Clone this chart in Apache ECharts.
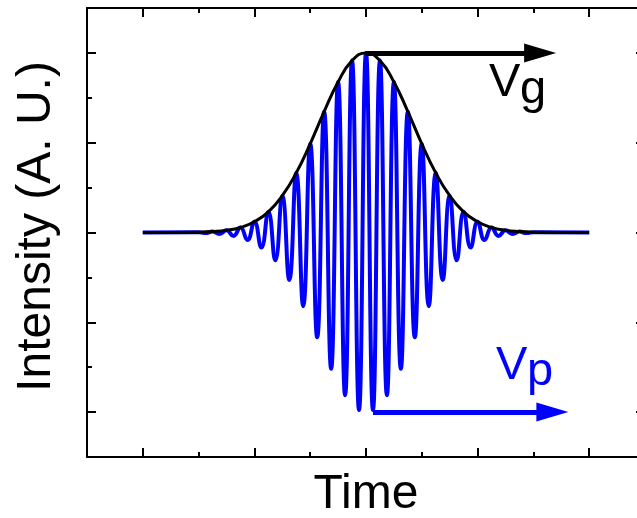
<!DOCTYPE html>
<html>
<head>
<meta charset="utf-8">
<script src="https://cdn.jsdelivr.net/npm/echarts@6/dist/echarts.min.js"></script>
<style>
html,body{margin:0;padding:0;background:#fff;}
#chart{width:637px;height:518px;}
</style>
</head>
<body>
<div id="chart"></div>
<script>
// Blue carrier wave: time positions of peaks/troughs and their amplitudes
const waveT = [-2, -1.5, -1.4375, -1.375, -1.3125, -1.25, -1.1875, -1.125, -1.0625, -1, -0.9375, -0.875, -0.8125, -0.75, -0.6875, -0.625, -0.5625, -0.5, -0.4375, -0.375, -0.3125, -0.25, -0.1875, -0.125, -0.0625, 0, 0.0625, 0.125, 0.1875, 0.25, 0.3125, 0.375, 0.4375, 0.5, 0.5625, 0.625, 0.6875, 0.75, 0.8125, 0.875, 0.9375, 1, 1.0625, 1.125, 1.1875, 1.25, 1.3125, 1.375, 1.4375, 1.5, 2];
const waveA = [0, 0.002, -0.003, 0.005, -0.008, 0.012, -0.019, 0.028, -0.042, 0.060, -0.084, 0.115, -0.155, 0.205, -0.264, 0.332, -0.410, 0.494, -0.583, 0.673, -0.759, 0.838, -0.906, 0.957, -0.989, 1.000, -0.989, 0.957, -0.906, 0.838, -0.759, 0.673, -0.583, 0.494, -0.410, 0.332, -0.264, 0.205, -0.155, 0.115, -0.084, 0.060, -0.042, 0.028, -0.019, 0.012, -0.008, 0.005, -0.003, 0.002, 0];

// Black envelope
const envT = [-2, -1.5, -1.375, -1.25, -1.125, -1, -0.875, -0.75, -0.625, -0.5, -0.375, -0.25, -0.125, 0, 0.125, 0.25, 0.375, 0.5, 0.625, 0.75, 0.875, 1, 1.125, 1.25, 1.375, 1.5, 2];
const envA = [0, 0.002, 0.005, 0.012, 0.028, 0.060, 0.115, 0.205, 0.332, 0.494, 0.673, 0.838, 0.957, 1, 0.957, 0.838, 0.673, 0.494, 0.332, 0.205, 0.115, 0.060, 0.028, 0.012, 0.005, 0.002, 0];

// Arrow annotations (data units)
const vgArrow = [[0, 1], [1.56, 1]];
const vpArrow = [[0.0625, -1], [1.67, -1]];

const xName = 'Time';
const yName = 'Intensity (A. U.)';
const FONT = '"Liberation Sans", Arial, sans-serif';

const chart = echarts.init(document.getElementById('chart'), null, {renderer: 'canvas'});

function axisBase(extra) {
  return Object.assign({
    type: 'value',
    axisLine: {show: true, onZero: false, lineStyle: {color: '#000', width: 2}},
    axisTick: {show: true, inside: true, length: 5, lineStyle: {color: '#000', width: 2}},
    minorTick: {show: true, splitNumber: 2, length: 9, lineStyle: {color: '#000', width: 2}},
    axisLabel: {show: false},
    splitLine: {show: false},
    minorSplitLine: {show: false}
  }, extra);
}

const nameStyle = {fontSize: 48, fontFamily: FONT, color: '#000'};

const option = {
  animation: false,
  backgroundColor: '#fff',
  grid: {left: 87, right: -8, top: 8, bottom: 61, containLabel: false, outerBoundsMode: 'none'},
  xAxis: [
    axisBase({position: 'bottom', min: -2.5, max: 2.5, interval: 1,
      name: xName, nameLocation: 'middle', nameGap: 14, nameTextStyle: nameStyle}),
    axisBase({position: 'top', min: -2.5, max: 2.5, interval: 1})
  ],
  yAxis: [
    axisBase({position: 'left', min: -1.25, max: 1.25, interval: 0.5,
      name: yName, nameLocation: 'middle', nameGap: 26,
      nameTextStyle: Object.assign({padding: [0, 0, 0, 12]}, nameStyle)}),
    axisBase({position: 'right', min: -1.25, max: 1.25, interval: 0.5})
  ],
  series: [
    {
      type: 'line',
      data: waveT.map((t, i) => [t, waveA[i]]),
      smooth: true,
      showSymbol: false,
      symbol: 'none',
      lineStyle: {color: '#0000FF', width: 4},
      z: 2,
      markLine: {
        silent: true,
        symbol: ['none', 'triangle'],
        symbolSize: [19, 32],
        label: {show: false},
        emphasis: {disabled: true},
        lineStyle: {color: '#0000FF', width: 5, type: 'solid'},
        data: [[{coord: vpArrow[0]}, {coord: vpArrow[1]}]]
      }
    },
    {
      type: 'line',
      data: envT.map((t, i) => [t, envA[i]]),
      smooth: true,
      showSymbol: false,
      symbol: 'none',
      lineStyle: {color: '#000', width: 3},
      z: 3,
      markLine: {
        silent: true,
        symbol: ['none', 'triangle'],
        symbolSize: [19, 32],
        label: {show: false},
        emphasis: {disabled: true},
        lineStyle: {color: '#000', width: 5, type: 'solid'},
        data: [[{coord: vgArrow[0]}, {coord: vgArrow[1]}]]
      }
    }
  ],
  graphic: [
    {type: 'text', left: 489, top: 60, silent: true,
      style: {text: 'V', font: '47px ' + FONT, fill: '#000'}},
    {type: 'text', left: 520, top: 67, silent: true,
      style: {text: 'g', font: '47px ' + FONT, fill: '#000'}},
    {type: 'text', left: 496, top: 343, silent: true,
      style: {text: 'V', font: '47px ' + FONT, fill: '#0000FF'}},
    {type: 'text', left: 527, top: 349, silent: true,
      style: {text: 'p', font: '47px ' + FONT, fill: '#0000FF'}}
  ]
};

chart.setOption(option);
</script>
</body>
</html>
